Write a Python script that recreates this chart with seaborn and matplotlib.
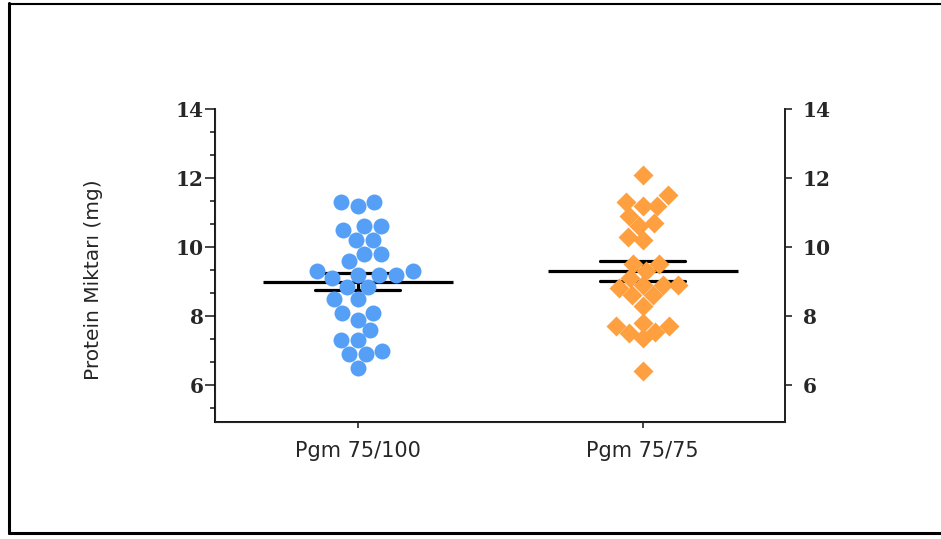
import pandas as pd
import seaborn as sns
import matplotlib.pyplot as plt
from matplotlib.ticker import MultipleLocator
from matplotlib.lines import Line2D

# data
groups = ['Pgm 75/100', 'Pgm 75/75']
pgm_75_100 = [11.3, 11.2, 11.3, 10.6, 10.5, 10.6, 10.2, 10.2, 9.6, 9.8, 9.8,
              9.3, 9.2, 9.1, 9.2, 9.2, 9.3, 8.85, 8.85, 8.5, 8.5, 8.1, 8.1,
              7.9, 7.6, 7.3, 7.3, 6.9, 6.9, 7.0, 6.5]
pgm_75_75 = [12.1, 11.5, 11.2, 11.2, 11.3, 10.9, 10.7, 10.6, 10.3, 10.2, 9.5,
             9.5, 9.3, 9.1, 8.9, 8.9, 8.9, 8.8, 8.6, 8.6, 8.3, 7.8, 7.7, 7.5,
             7.35, 7.55, 7.7, 6.4]
y_ticks = [6, 8, 10, 12, 14]
colors = ['#55A0F6', '#FFA040']
markers = ['o', 'D']

df = pd.concat([
    pd.DataFrame({'grup': groups[0], 'protein': pgm_75_100}),
    pd.DataFrame({'grup': groups[1], 'protein': pgm_75_75}),
], ignore_index=True)

sns.set_style('ticks')
plt.rcParams['font.family'] = ['DejaVu Sans']

fig = plt.figure(figsize=(9.41, 5.39), dpi=100)
ax = fig.add_axes([215 / 941, 1 - 422 / 539, 570 / 941, 313 / 539])

# points, one group at a time so each gets its own marker
for g, c, m, s in zip(groups, colors, markers, [11.5, 10.2]):
    sns.swarmplot(data=df[df['grup'] == g], x='grup', y='protein', order=groups,
                  color=c, marker=m, size=s, linewidth=0, ax=ax)

# mean +/- SEM
sns.pointplot(data=df, x='grup', y='protein', order=groups, errorbar='se',
              capsize=0.3, color='black', marker='_', markersize=137,
              markeredgewidth=2.3, linestyle='none',
              err_kws={'linewidth': 2.3}, ax=ax)

ax.set_xlim(-0.5, 1.5)
ax.set_ylim(4.93, 14)
ax.set_yticks(y_ticks)
ax.yaxis.set_minor_locator(MultipleLocator(2 / 3))
ax.set_xlabel('')
ax.set_ylabel('Protein Miktarı (mg)', fontsize=14.5, va='center')
ax.yaxis.set_label_coords(-0.214, 0.4537)
ax.tick_params(axis='x', length=4, width=1.2, pad=10, labelsize=15)
ax.tick_params(axis='y', which='major', length=7, width=1.2, pad=1)
ax.tick_params(axis='y', which='minor', length=3.5, width=1.2)
for lab in ax.get_yticklabels():
    lab.set_fontfamily('DejaVu Serif')
    lab.set_fontsize(14.5)
    lab.set_fontweight('bold')

sns.despine(ax=ax, top=True, right=False)
for sp in ['left', 'bottom', 'right']:
    ax.spines[sp].set_linewidth(1.3)
    ax.spines[sp].set_color('black')

# right axis, major ticks only
ax2 = ax.twinx()
ax2.set_ylim(ax.get_ylim())
ax2.set_yticks(y_ticks)
ax2.tick_params(axis='y', length=5, width=1.2, pad=8)
for lab in ax2.get_yticklabels():
    lab.set_fontfamily('DejaVu Serif')
    lab.set_fontsize(14.5)
    lab.set_fontweight('bold')
ax2.spines['top'].set_visible(False)
ax2.spines['right'].set_linewidth(1.3)

# outer frame
w, h = 941, 539
fig.add_artist(Line2D([8.5 / w, 8.5 / w], [1 - 3 / h, 1 - 533 / h], color='black', lw=2.2))
fig.add_artist(Line2D([8.5 / w, 1], [1 - 3.5 / h, 1 - 3.5 / h], color='black', lw=1.5))
fig.add_artist(Line2D([8.5 / w, 1], [1 - 533 / h, 1 - 533 / h], color='black', lw=2.2))

fig.savefig('out.png', dpi=100)
